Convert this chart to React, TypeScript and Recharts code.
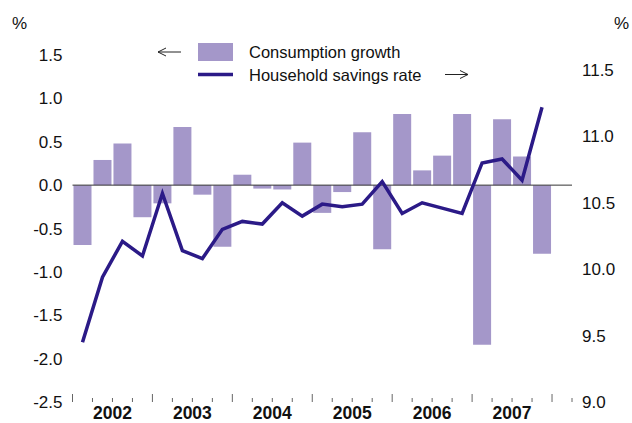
import React from 'react';
import { ComposedChart, Bar, Line, XAxis, YAxis, ReferenceLine } from 'recharts';

// quarterly data, 2002Q1 - 2007Q4 (2008Q1 is an empty slot at the right edge)
const quarters = [
  '2002Q1', '2002Q2', '2002Q3', '2002Q4',
  '2003Q1', '2003Q2', '2003Q3', '2003Q4',
  '2004Q1', '2004Q2', '2004Q3', '2004Q4',
  '2005Q1', '2005Q2', '2005Q3', '2005Q4',
  '2006Q1', '2006Q2', '2006Q3', '2006Q4',
  '2007Q1', '2007Q2', '2007Q3', '2007Q4',
  '2008Q1',
];
const consumptionGrowth = [
  -0.69, 0.29, 0.48, -0.37,
  -0.21, 0.67, -0.11, -0.71,
  0.12, -0.04, -0.05, 0.49,
  -0.32, -0.08, 0.61, -0.74,
  0.82, 0.17, 0.34, 0.82,
  -1.84, 0.76, 0.33, -0.79,
  null,
];
const savingsRate = [
  9.45, 9.94, 10.21, 10.1,
  10.57, 10.14, 10.08, 10.3,
  10.36, 10.34, 10.5, 10.4,
  10.49, 10.47, 10.49, 10.66,
  10.42, 10.5, 10.46, 10.42,
  10.8, 10.83, 10.67, 11.22,
  null,
];
const leftTicks = [-2.5, -2, -1.5, -1, -0.5, 0, 0.5, 1, 1.5];
const rightTicks = [9, 9.5, 10, 10.5, 11, 11.5];

const data = quarters.map((q, i) => ({
  quarter: q,
  consumption: consumptionGrowth[i],
  savings: savingsRate[i],
}));

const BAR_COLOR = '#a497c9';
const LINE_COLOR = '#2b1a87';
const FONT = '"Liberation Sans", Arial, Helvetica, sans-serif';

const QuarterTick = (props: any) => {
  const { x, y, payload, index } = props;
  const half = payload?.offset ?? 10;
  const left = x - half;
  const major = index % 4 === 0;
  const last = index === quarters.length - 1;
  return (
    <g>
      <line x1={left} x2={left} y1={y - (major ? 8 : 4)} y2={y} stroke="#666" strokeWidth={1} />
      {last && <line x1={x + half} x2={x + half} y1={y - 4} y2={y} stroke="#666" strokeWidth={1} />}
      {index % 4 === 2 && (
        <text x={left} y={y + 17} textAnchor="middle" fontSize={17.5} fontWeight="bold" fill="#111" fontFamily={FONT}>
          {String(payload.value).slice(0, 4)}
        </text>
      )}
    </g>
  );
};

const fmt = (v: number) => v.toFixed(1);

export default function App() {
  return (
    <div style={{ position: 'absolute', left: 0, top: 0, width: 632, height: 423, background: '#fff' }}>
      <ComposedChart
        width={632}
        height={423}
        data={data}
        margin={{ top: 55, right: 0, bottom: 0, left: 0 }}
        barGap={0}
      >
        <XAxis
          dataKey="quarter"
          xAxisId="x"
          height={21}
          axisLine={false}
          tickLine={false}
          tickSize={0}
          tickMargin={0}
          interval={0}
          tick={<QuarterTick />}
        />
        <YAxis
          yAxisId="left"
          orientation="left"
          width={72.5}
          domain={[-2.5, 1.5]}
          ticks={leftTicks}
          tickFormatter={fmt}
          axisLine={false}
          tickLine={false}
          tickMargin={4}
          tick={{ fontSize: 17, fill: '#111', fontFamily: FONT }}
        />
        <YAxis
          yAxisId="right"
          orientation="right"
          width={60}
          domain={[9, 11.613]}
          ticks={rightTicks}
          tickFormatter={fmt}
          axisLine={false}
          tickLine={false}
          tickMargin={4}
          allowDataOverflow
          tick={{ fontSize: 17, fill: '#111', fontFamily: FONT, textAnchor: 'start' }}
        />
        <Bar
          dataKey="consumption"
          xAxisId="x"
          yAxisId="left"
          fill={BAR_COLOR}
          barSize={18}
          isAnimationActive={false}
        />
        <ReferenceLine y={0} xAxisId="x" yAxisId="left" stroke="#333" strokeWidth={1} />
        <Line
          dataKey="savings"
          xAxisId="x"
          yAxisId="right"
          type="linear"
          stroke={LINE_COLOR}
          strokeWidth={3.5}
          dot={false}
          isAnimationActive={false}
        />
      </ComposedChart>
      <svg
        width={632}
        height={423}
        style={{ position: 'absolute', left: 0, top: 0, pointerEvents: 'none' }}
        fontFamily={FONT}
      >
        <text x={12} y={29} fontSize={17} fill="#111">%</text>
        <text x={614} y={29} fontSize={17} fill="#111">%</text>
        {/* legend */}
        <path d="M158 52 L181 52 M158 52 L166 48 M158 52 L166 56" stroke="#222" strokeWidth={1} fill="none" />
        <rect x={198} y={43} width={35} height={18} fill={BAR_COLOR} />
        <text x={249} y={58} fontSize={16.5} fill="#111">Consumption growth</text>
        <line x1={198} x2={233} y1={74.5} y2={74.5} stroke={LINE_COLOR} strokeWidth={3.5} />
        <text x={249} y={81} fontSize={16.5} fill="#111">Household savings rate</text>
        <path d="M445 74.5 L468 74.5 M468 74.5 L460 70.5 M468 74.5 L460 78.5" stroke="#222" strokeWidth={1} fill="none" />
      </svg>
    </div>
  );
}
